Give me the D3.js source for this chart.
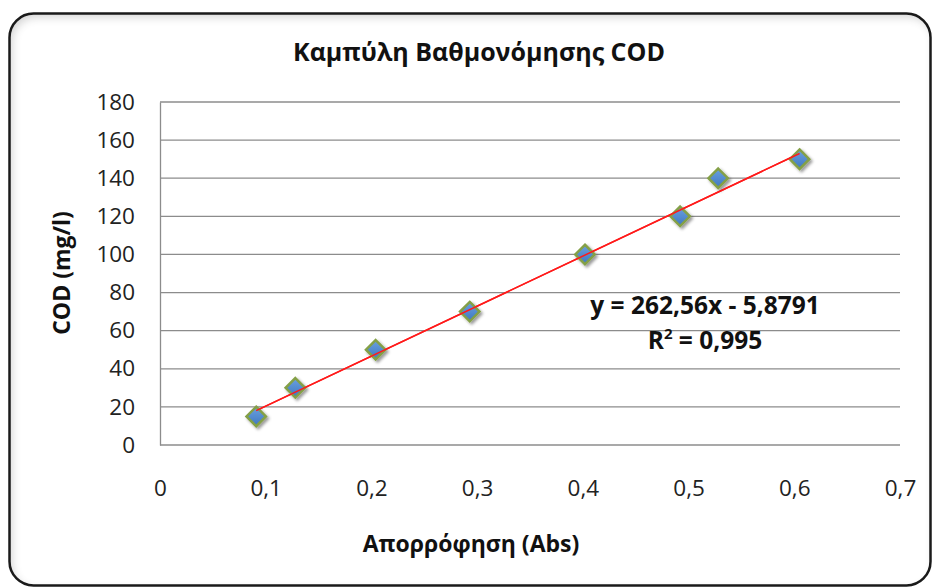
<!DOCTYPE html>
<html>
<head>
<meta charset="utf-8">
<script src="https://cdn.jsdelivr.net/npm/d3@7"></script>
<style>
  html, body { margin: 0; padding: 0; background: #fff; }
  svg { display: block; }
  text { font-family: "Open Sans", "Noto Sans", "Liberation Sans", sans-serif; }
</style>
</head>
<body>
<svg id="chart" width="934" height="587"></svg>
<script>
// Calibration data: absorbance vs COD
const absorbance = [0.091, 0.128, 0.204, 0.293, 0.402, 0.492, 0.528, 0.605];
const codValues  = [15, 30, 50, 70, 100, 120, 140, 150];
const xTicks = [0, 0.1, 0.2, 0.3, 0.4, 0.5, 0.6, 0.7];
const yTicks = [0, 20, 40, 60, 80, 100, 120, 140, 160, 180];
const slope = 262.56, intercept = -5.8791, rSquared = "0,995";
const titleText = "Καμπύλη Βαθμονόμησης COD";
const xTitle = "Απορρόφηση (Abs)";
const yTitle = "COD (mg/l)";
const eqText = "y = 262,56x - 5,8791";

const svg = d3.select("#chart");
const defs = svg.append("defs");

// inner shadow along the top/left of the frame
const sh = defs.append("filter").attr("id", "inner").attr("x", "-5%").attr("y", "-5%").attr("width", "110%").attr("height", "110%");
sh.append("feGaussianBlur").attr("in", "SourceAlpha").attr("stdDeviation", 4).attr("result", "b");
sh.append("feOffset").attr("in", "b").attr("dx", 3).attr("dy", 4).attr("result", "o");
sh.append("feComposite").attr("in", "SourceAlpha").attr("in2", "o").attr("operator", "out").attr("result", "inv");
sh.append("feFlood").attr("flood-color", "#000").attr("flood-opacity", 0.35);
sh.append("feComposite").attr("in2", "inv").attr("operator", "in").attr("result", "shadow");
sh.append("feMerge").selectAll("feMergeNode").data(["SourceGraphic", "shadow"]).enter()
  .append("feMergeNode").attr("in", d => d);

// marker drop shadow
const ms = defs.append("filter").attr("id", "mshadow").attr("x", "-50%").attr("y", "-50%").attr("width", "200%").attr("height", "200%");
ms.append("feDropShadow").attr("dx", 2).attr("dy", 2).attr("stdDeviation", 1.6).attr("flood-color", "#000").attr("flood-opacity", 0.4);

const grad = defs.append("linearGradient").attr("id", "mfill").attr("x1", 0).attr("y1", 0).attr("x2", 0).attr("y2", 1);
grad.append("stop").attr("offset", "0%").attr("stop-color", "#6aa0e0");
grad.append("stop").attr("offset", "100%").attr("stop-color", "#3f78c0");

// chart frame
const frame = { x: 9.5, y: 13.5, w: 921, h: 572, r: 24 };
svg.append("rect")
  .attr("x", frame.x).attr("y", frame.y).attr("width", frame.w).attr("height", frame.h)
  .attr("rx", frame.r).attr("ry", frame.r)
  .attr("fill", "#fff").attr("filter", "url(#inner)");
svg.append("rect")
  .attr("x", frame.x).attr("y", frame.y).attr("width", frame.w).attr("height", frame.h)
  .attr("rx", frame.r).attr("ry", frame.r)
  .attr("fill", "none").attr("stroke", "#1a1a1a").attr("stroke-width", 2.5);

const plot = { left: 160, right: 900, top: 102, bottom: 445 };
const x = d3.scaleLinear().domain([0, 0.7]).range([plot.left, plot.right]);
const y = d3.scaleLinear().domain([0, 180]).range([plot.bottom, plot.top]);
const fmt = d => d === 0 ? "0" : String(d).replace(".", ",");
const tickFont = 22.5;

// horizontal gridlines
svg.append("g").selectAll("line").data(yTicks).enter().append("line")
  .attr("x1", plot.left).attr("x2", plot.right)
  .attr("y1", d => y(d)).attr("y2", d => y(d))
  .attr("stroke", "#8c8c8c").attr("stroke-width", 1.3);

// y axis
const yAxis = svg.append("g").attr("transform", `translate(${plot.left},0)`)
  .call(d3.axisLeft(y).tickValues(yTicks).tickSize(0).tickPadding(25).tickFormat(fmt));
yAxis.select(".domain").attr("stroke", "#8c8c8c").attr("stroke-width", 1.3);
yAxis.selectAll("text").attr("font-size", tickFont).attr("fill", "#222")
  .style("font-family", "'Open Sans', 'Noto Sans', sans-serif");

// x axis (labels only, below the plot)
const xAxis = svg.append("g").attr("transform", `translate(0,${plot.bottom + 35})`)
  .call(d3.axisBottom(x).tickValues(xTicks).tickSize(0).tickPadding(0).tickFormat(fmt));
xAxis.select(".domain").remove();
xAxis.selectAll("text").attr("font-size", tickFont).attr("fill", "#222")
  .style("font-family", "'Open Sans', 'Noto Sans', sans-serif");

// linear trendline
const xMin = d3.min(absorbance), xMax = d3.max(absorbance);
svg.append("line")
  .attr("x1", x(xMin)).attr("y1", y(slope * xMin + intercept))
  .attr("x2", x(xMax)).attr("y2", y(slope * xMax + intercept))
  .attr("stroke", "#ff1a1a").attr("stroke-width", 1.5);

// diamond markers
const diamond = d3.symbol().type(d3.symbolDiamond2).size(240);
svg.append("g").selectAll("path").data(absorbance.map((a, i) => [a, codValues[i]])).enter()
  .append("path")
  .attr("d", diamond)
  .attr("transform", d => `translate(${x(d[0])},${y(d[1])})`)
  .attr("fill", "url(#mfill)")
  .attr("stroke", "#84a046").attr("stroke-width", 2.5)
  .attr("stroke-linejoin", "miter")
  .attr("filter", "url(#mshadow)");

// trendline drawn again above the markers
svg.append("line")
  .attr("x1", x(xMin)).attr("y1", y(slope * xMin + intercept))
  .attr("x2", x(xMax)).attr("y2", y(slope * xMax + intercept))
  .attr("stroke", "#ff1a1a").attr("stroke-width", 1.5);

// title
svg.append("text").attr("x", 479).attr("y", 61).attr("text-anchor", "middle")
  .attr("font-size", 25).attr("font-weight", "bold").attr("fill", "#111").text(titleText);

// axis titles
svg.append("text").attr("x", 471).attr("y", 552).attr("text-anchor", "middle")
  .attr("font-size", 23).attr("font-weight", "bold").attr("fill", "#111").text(xTitle);
svg.append("text").attr("transform", "translate(70,273) rotate(-90)").attr("text-anchor", "middle")
  .attr("font-size", 23).attr("font-weight", "bold").attr("fill", "#111").text(yTitle);

// regression equation
svg.append("text").attr("x", 705).attr("y", 314).attr("text-anchor", "middle")
  .attr("font-size", 24.5).attr("font-weight", "bold").attr("fill", "#111").text(eqText);
const r2 = svg.append("text").attr("x", 705).attr("y", 349).attr("text-anchor", "middle")
  .attr("font-size", 24.5).attr("font-weight", "bold").attr("fill", "#111");
r2.append("tspan").text("R");
r2.append("tspan").attr("font-size", 15).attr("dy", -10).text("2");
r2.append("tspan").attr("dy", 10).text(" = " + rSquared);
</script>
</body>
</html>
